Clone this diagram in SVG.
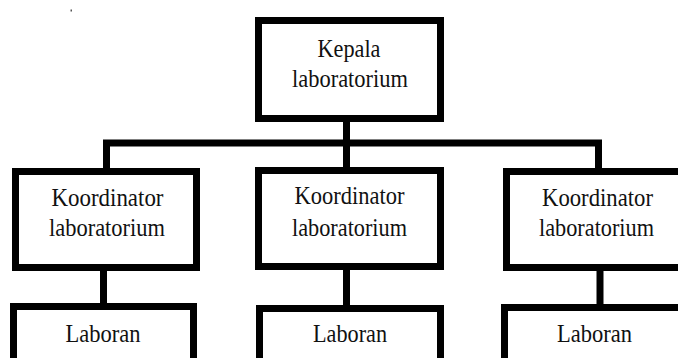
<svg xmlns="http://www.w3.org/2000/svg" width="678" height="358" viewBox="0 0 678 358">
<style>
.box{fill:#fff;stroke:#000;stroke-width:7}
.con{fill:none;stroke:#000;stroke-width:7;stroke-linejoin:miter}
.t{font-family:"Liberation Serif","Times New Roman",serif;font-size:26px;fill:#111;text-anchor:middle}
</style>
<rect width="678" height="358" fill="#fff"/>
<rect x="70.5" y="9.5" width="1.5" height="2" fill="#555"/>
<g id="connectors">
<polyline class="con" points="106.5,172 106.5,143 598.5,143 598.5,172"/>
<line class="con" x1="346.5" y1="120" x2="346.5" y2="170"/>
<line class="con" x1="103.5" y1="268" x2="103.5" y2="306"/>
<line class="con" x1="346.5" y1="267" x2="346.5" y2="307"/>
<line class="con" x1="600" y1="268" x2="600" y2="306"/>
</g>
<g id="kepala">
<rect class="box" x="258.5" y="20.5" width="182" height="98"/>
<text class="t" x="349" y="57" textLength="63" lengthAdjust="spacingAndGlyphs">Kepala</text>
<text class="t" x="350" y="87" textLength="116" lengthAdjust="spacingAndGlyphs">laboratorium</text>
</g>
<g id="koord1">
<rect class="box" x="15.5" y="171.5" width="181" height="96"/>
<text class="t" x="107.5" y="205.5" textLength="112" lengthAdjust="spacingAndGlyphs">Koordinator</text>
<text class="t" x="107" y="236" textLength="116" lengthAdjust="spacingAndGlyphs">laboratorium</text>
</g>
<g id="koord2">
<rect class="box" x="258.5" y="170.5" width="182" height="96"/>
<text class="t" x="349.5" y="204" textLength="110" lengthAdjust="spacingAndGlyphs">Koordinator</text>
<text class="t" x="349.5" y="235.5" textLength="115" lengthAdjust="spacingAndGlyphs">laboratorium</text>
</g>
<g id="koord3">
<rect class="box" x="506.5" y="171.5" width="190" height="96"/>
<text class="t" x="597.5" y="206" textLength="111" lengthAdjust="spacingAndGlyphs">Koordinator</text>
<text class="t" x="596.5" y="236" textLength="115" lengthAdjust="spacingAndGlyphs">laboratorium</text>
</g>
<g id="laboran1">
<rect class="box" x="13.5" y="306.5" width="180" height="70"/>
<text class="t" x="103" y="341.5" textLength="75" lengthAdjust="spacingAndGlyphs">Laboran</text>
</g>
<g id="laboran2">
<rect class="box" x="259.5" y="308.5" width="181" height="70"/>
<text class="t" x="350" y="341.5" textLength="74" lengthAdjust="spacingAndGlyphs">Laboran</text>
</g>
<g id="laboran3">
<rect class="box" x="504.5" y="307.5" width="200" height="70"/>
<text class="t" x="594.5" y="341.5" textLength="75" lengthAdjust="spacingAndGlyphs">Laboran</text>
</g>
</svg>
